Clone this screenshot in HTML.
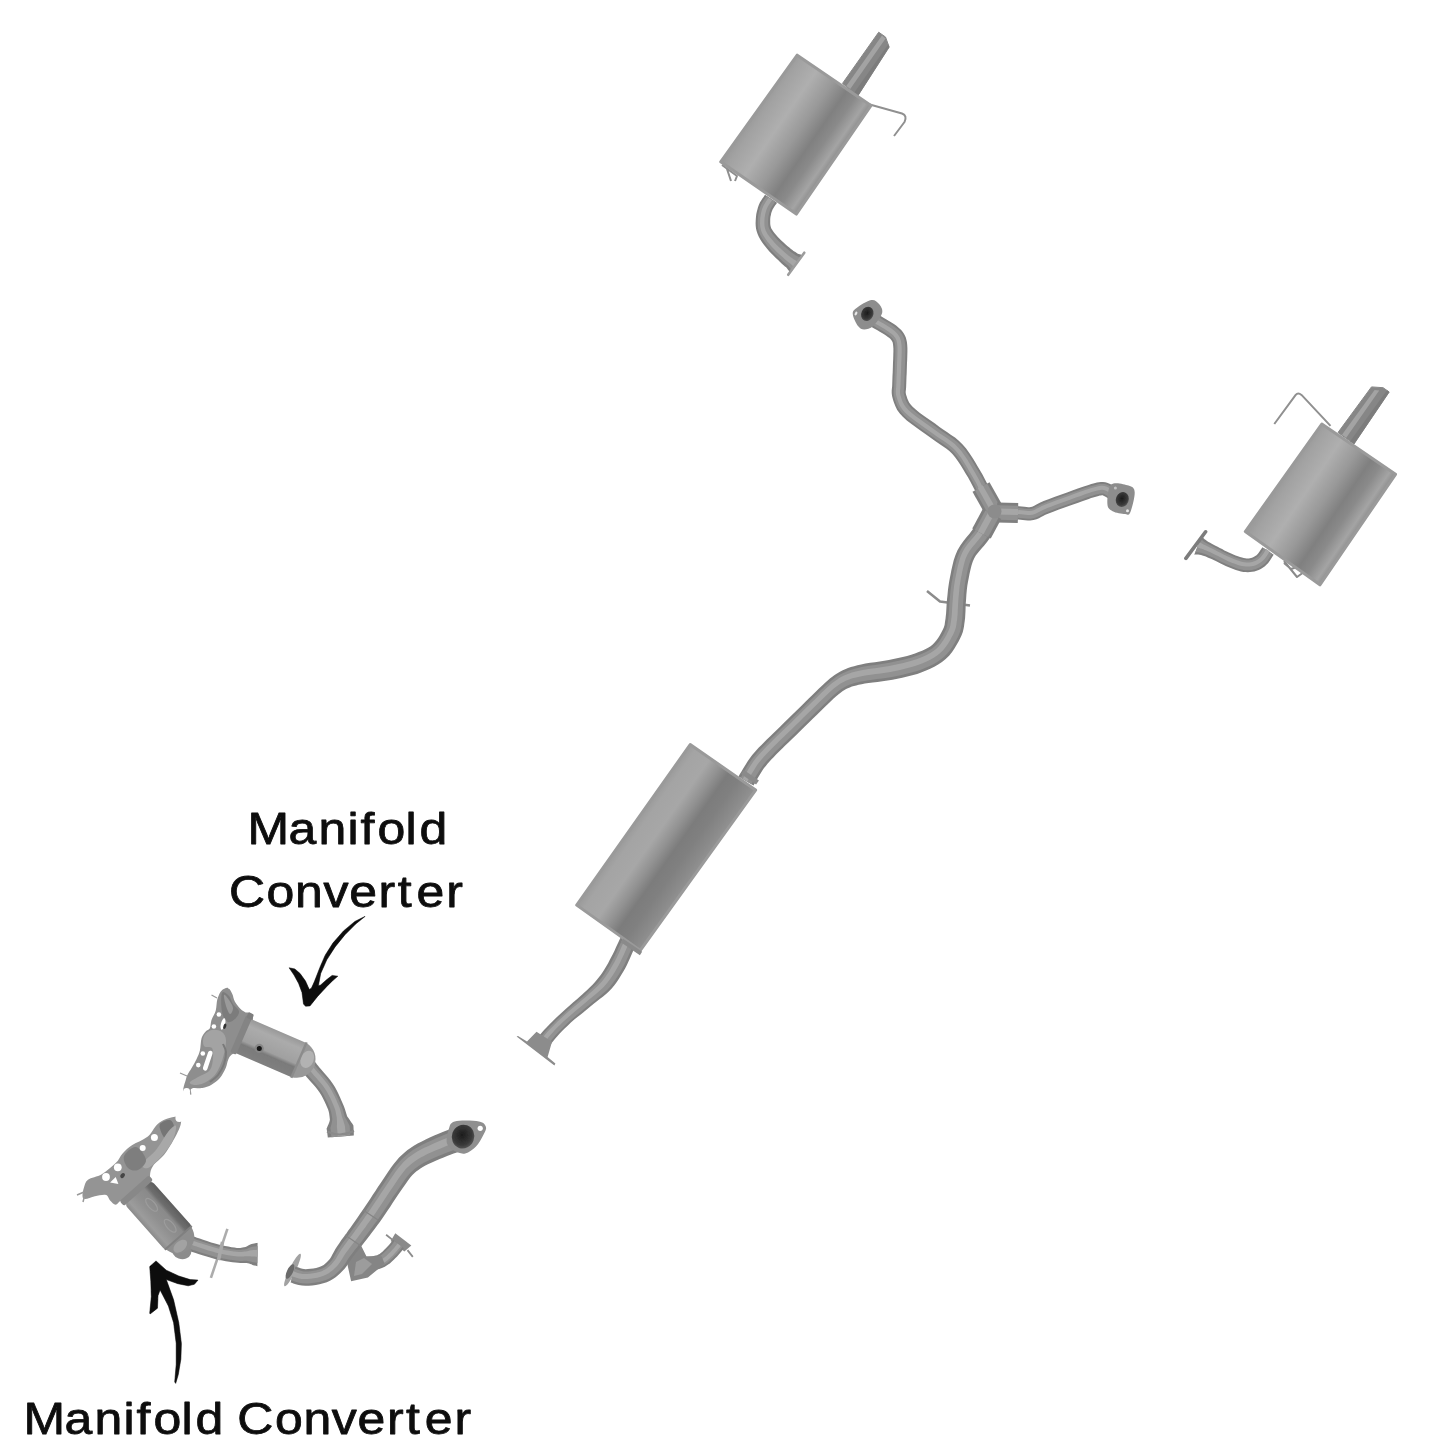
<!DOCTYPE html>
<html lang="en">
<head>
<meta charset="utf-8">
<title>Exhaust System Diagram</title>
<style>
html,body{margin:0;padding:0;background:#fff;}
body{width:1445px;height:1445px;overflow:hidden;}
svg{display:block;}
.lbl{font-family:"Liberation Sans",sans-serif;font-size:45px;fill:#0a0a0a;stroke:#0a0a0a;stroke-width:0.8px;stroke-linejoin:round;}
.p{fill:none;stroke-linejoin:round;}
</style>
</head>
<body>
<svg width="1445" height="1445" viewBox="0 0 1445 1445">
<defs>
<filter id="soft" x="-5%" y="-5%" width="110%" height="110%"><feGaussianBlur stdDeviation="0.75"/></filter>
<filter id="soft2" x="-5%" y="-5%" width="110%" height="110%"><feGaussianBlur stdDeviation="0.45"/></filter>

<linearGradient id="gm1" gradientUnits="userSpaceOnUse" x1="797" y1="55" x2="871" y2="106"><stop offset="0" stop-color="#9c9c9c"/><stop offset=".06" stop-color="#a2a2a2"/><stop offset=".28" stop-color="#afafaf"/><stop offset=".5" stop-color="#999"/><stop offset=".68" stop-color="#808080"/><stop offset=".8" stop-color="#8a8a8a"/><stop offset=".93" stop-color="#a4a4a4"/><stop offset="1" stop-color="#8e8e8e"/></linearGradient>
<linearGradient id="gm2" gradientUnits="userSpaceOnUse" x1="1322" y1="424" x2="1396" y2="474"><stop offset="0" stop-color="#9c9c9c"/><stop offset=".06" stop-color="#a2a2a2"/><stop offset=".28" stop-color="#afafaf"/><stop offset=".5" stop-color="#999"/><stop offset=".68" stop-color="#808080"/><stop offset=".8" stop-color="#8a8a8a"/><stop offset=".93" stop-color="#a4a4a4"/><stop offset="1" stop-color="#8e8e8e"/></linearGradient>
<linearGradient id="gm3" gradientUnits="userSpaceOnUse" x1="691" y1="745" x2="755" y2="790"><stop offset="0" stop-color="#9c9c9c"/><stop offset=".08" stop-color="#a4a4a4"/><stop offset=".3" stop-color="#a7a7a7"/><stop offset=".46" stop-color="#929292"/><stop offset=".6" stop-color="#7c7c7c"/><stop offset=".75" stop-color="#808080"/><stop offset=".9" stop-color="#8a8a8a"/><stop offset="1" stop-color="#929292"/></linearGradient>
<linearGradient id="gc1" gradientUnits="userSpaceOnUse" x1="0" y1="-18.700" x2="0" y2="18.700"><stop offset="0" stop-color="#989898"/><stop offset=".2" stop-color="#ababab"/><stop offset=".62" stop-color="#a0a0a0"/><stop offset=".72" stop-color="#7a7a7a"/><stop offset="1" stop-color="#808080"/></linearGradient>
<linearGradient id="gc2" gradientUnits="userSpaceOnUse" x1="0" y1="-18" x2="0" y2="18"><stop offset="0" stop-color="#5e5e5e"/><stop offset=".2" stop-color="#6e6e6e"/><stop offset=".3" stop-color="#8a8a8a"/><stop offset=".6" stop-color="#909090"/><stop offset=".85" stop-color="#9c9c9c"/><stop offset="1" stop-color="#8a8a8a"/></linearGradient>
<radialGradient id="gh" cx=".45" cy=".45" r=".6"><stop offset="0" stop-color="#1c1c1c"/><stop offset=".7" stop-color="#3a3a3a"/><stop offset="1" stop-color="#5a5a5a"/></radialGradient>
</defs>
<rect width="1445" height="1445" fill="#fff"/>
<g filter="url(#soft)">
<g id="muffler1">
<polygon points="842.5,83.4 878.7,32.2 885.5,37.0 889.2,47.1 857.6,96.2" fill="#868686" stroke="#868686" stroke-width="1" stroke-linejoin="round"/><polygon points="846.3,86.1 882.0,35.6 885.6,38.6 850.2,88.9" fill="#a3a3a3"/><polygon points="853.6,93.4 888.2,44.6 889.2,47.1 857.6,96.2" fill="#7c7c7c"/>
<polygon points="765.0,194.8 764.5,195.6 763.6,196.9 762.4,198.5 761.2,200.4 759.9,202.6 758.8,205.0 758.0,207.2 757.4,209.5 756.8,211.8 756.3,214.1 756.0,216.5 755.8,218.9 755.7,221.1 755.6,223.3 755.7,225.8 756.0,228.4 756.6,231.1 757.6,234.0 758.8,236.8 760.3,239.4 761.9,242.0 763.7,244.4 765.5,246.8 767.3,249.1 769.4,251.5 771.6,253.8 773.9,256.1 776.1,258.2 778.1,260.1 779.8,261.8 781.3,263.2 782.7,264.5 783.9,265.5 784.9,266.4 785.8,267.1 786.6,267.8 787.3,268.7 788.0,269.7 788.7,270.6 789.2,271.5 789.6,272.2 789.9,272.8 803.1,255.2 802.4,255.1 801.6,254.9 800.7,254.6 799.7,254.3 798.6,253.9 797.4,253.4 796.4,252.7 795.4,252.1 794.4,251.5 793.5,250.9 792.4,250.1 791.0,249.0 789.3,247.6 787.3,245.9 785.1,244.0 783.0,242.1 781.0,240.3 779.3,238.5 777.6,236.7 775.9,234.8 774.4,232.9 773.1,231.2 772.0,229.6 771.2,228.2 770.8,227.0 770.5,225.8 770.3,224.5 770.2,223.1 770.2,221.4 770.2,219.7 770.3,218.1 770.5,216.5 770.9,214.9 771.2,213.2 771.7,211.7 772.2,210.4 772.7,209.3 773.5,208.0 774.4,206.5 775.4,205.1 776.3,203.9 777.0,202.8" fill="#7f7f7f"/><polygon points="766.7,195.9 766.1,196.8 765.2,198.0 764.1,199.6 762.9,201.5 761.7,203.6 760.7,205.7 759.9,207.9 759.3,210.0 758.8,212.2 758.3,214.5 758.0,216.8 757.8,219.0 757.7,221.1 757.7,223.3 757.8,225.6 758.0,228.0 758.6,230.6 759.5,233.2 760.7,235.8 762.1,238.3 763.7,240.7 765.4,243.1 767.2,245.4 769.0,247.6 771.0,249.9 773.2,252.2 775.4,254.4 777.6,256.5 779.6,258.4 781.3,260.0 782.8,261.4 784.2,262.6 785.4,263.5 786.4,264.4 787.3,265.1 788.1,265.8 788.8,266.6 789.6,267.5 790.3,268.4 791.0,269.1 791.4,269.8 791.7,270.3 801.3,257.7 800.6,257.5 799.9,257.2 799.0,256.9 798.0,256.4 797.0,256.0 795.9,255.4 794.9,254.8 793.9,254.1 793.0,253.5 792.0,252.8 790.8,251.9 789.5,250.8 787.7,249.3 785.7,247.6 783.5,245.7 781.4,243.8 779.4,241.8 777.6,240.0 775.9,238.1 774.2,236.1 772.7,234.2 771.3,232.3 770.2,230.6 769.3,229.0 768.8,227.6 768.4,226.2 768.2,224.7 768.1,223.1 768.1,221.4 768.2,219.6 768.3,217.9 768.5,216.2 768.9,214.4 769.3,212.7 769.8,211.1 770.3,209.7 770.9,208.3 771.7,206.9 772.7,205.4 773.7,204.0 774.6,202.7 775.3,201.7" fill="#919191"/><polygon points="768.5,197.9 767.9,198.8 767.0,200.1 765.9,201.6 764.8,203.4 763.7,205.3 762.8,207.2 762.1,209.1 761.5,211.1 761.0,213.2 760.6,215.3 760.3,217.4 760.1,219.5 760.1,221.5 760.0,223.5 760.1,225.6 760.4,227.8 760.9,230.0 761.7,232.3 762.7,234.6 764.1,236.8 765.6,239.1 767.3,241.4 769.0,243.6 770.8,245.7 772.7,247.8 774.9,250.0 777.1,252.2 779.3,254.2 781.3,256.0 783.0,257.6 784.5,258.9 785.8,260.0 786.9,260.9 787.9,261.7 788.8,262.4 789.7,263.0 790.5,263.8 791.4,264.6 792.2,265.3 792.9,266.0 793.4,266.5 793.8,266.9 797.8,261.7 797.3,261.4 796.6,261.0 795.8,260.5 794.9,260.0 793.9,259.4 792.9,258.8 792.0,258.1 791.0,257.4 790.1,256.7 789.0,255.9 787.8,255.0 786.4,253.8 784.6,252.3 782.6,250.5 780.5,248.6 778.3,246.5 776.2,244.5 774.4,242.5 772.7,240.5 771.0,238.5 769.4,236.4 767.9,234.4 766.7,232.4 765.7,230.5 765.1,228.8 764.7,227.0 764.5,225.2 764.4,223.4 764.4,221.6 764.5,219.7 764.6,217.9 764.9,216.0 765.2,214.1 765.7,212.2 766.2,210.4 766.8,208.8 767.5,207.3 768.5,205.6 769.5,204.0 770.5,202.5 771.4,201.3 772.1,200.3" fill="#a6a6a6"/>
<path class="p" d="M804.300 252.700 L788.200 274.800" stroke="#9c9c9c" stroke-width="2.600" stroke-linecap="round"/>
<path class="p" d="M868 104 L902 113.500 Q907.500 115.500 904.500 122 L894 136" stroke="#909090" stroke-width="2"/>
<path class="p" d="M722 165 L737 176 L735 181 M727 169 L731 181" stroke="#8e8e8e" stroke-width="2"/>
<polygon points="797.2,55.2 870.9,105.6 796.3,214.1 720.7,161.8" fill="url(#gm1)" stroke="#9a9a9a" stroke-width="3" stroke-linejoin="round"/>
</g>
<g id="muffler2">
<polygon points="1338.0,432.5 1371.5,386.9 1383.1,387.7 1389.2,392.0 1354.0,444.0" fill="#868686" stroke="#868686" stroke-width="1" stroke-linejoin="round"/><polygon points="1342.0,434.8 1374.6,390.0 1379.2,390.4 1346.2,437.7" fill="#a3a3a3"/><polygon points="1350.2,441.2 1387.0,390.3 1389.2,392.0 1354.0,444.0" fill="#7c7c7c"/>
<polygon points="1262.3,547.3 1261.6,548.4 1260.7,549.8 1259.7,551.3 1258.7,552.8 1257.7,554.0 1257.0,554.8 1256.2,555.4 1255.2,556.1 1254.1,556.7 1253.1,557.3 1252.0,557.7 1251.0,558.0 1249.9,558.2 1248.9,558.4 1247.8,558.4 1246.6,558.4 1245.2,558.2 1243.7,557.9 1242.0,557.6 1240.0,557.0 1237.9,556.3 1235.6,555.4 1233.3,554.5 1231.1,553.6 1228.9,552.6 1226.7,551.5 1224.4,550.4 1222.1,549.1 1219.8,547.9 1217.6,546.8 1215.5,545.7 1213.6,544.7 1211.8,543.7 1210.1,542.8 1208.5,541.9 1207.0,541.1 1205.8,540.1 1204.6,539.2 1203.6,538.3 1202.8,537.6 1202.2,536.9 1201.8,536.2 1194.2,554.8 1195.0,554.6 1196.0,554.6 1197.0,554.5 1198.2,554.6 1199.5,554.7 1201.0,554.9 1202.4,555.4 1204.1,556.0 1205.8,556.6 1207.7,557.4 1209.6,558.2 1211.6,559.0 1213.6,560.0 1215.8,561.1 1218.2,562.3 1220.6,563.6 1223.2,564.8 1225.7,566.0 1228.2,567.1 1230.7,568.1 1233.2,569.1 1235.8,570.0 1238.4,570.8 1240.9,571.5 1243.3,571.9 1245.6,572.1 1247.8,572.2 1250.0,572.1 1252.2,571.8 1254.4,571.4 1256.6,570.7 1258.7,569.9 1260.8,568.9 1262.7,567.7 1264.6,566.4 1266.4,564.8 1268.2,562.9 1269.8,560.8 1271.1,558.8 1272.2,557.0 1273.1,555.6 1273.7,554.7" fill="#7f7f7f"/><polygon points="1263.9,548.3 1263.2,549.4 1262.3,550.8 1261.3,552.4 1260.2,553.9 1259.2,555.2 1258.3,556.2 1257.4,557.0 1256.2,557.7 1255.1,558.4 1253.9,559.0 1252.7,559.5 1251.5,559.9 1250.3,560.1 1249.1,560.3 1247.8,560.3 1246.5,560.3 1245.0,560.1 1243.3,559.8 1241.5,559.4 1239.5,558.8 1237.2,558.1 1234.9,557.2 1232.6,556.3 1230.3,555.3 1228.1,554.3 1225.9,553.2 1223.5,552.0 1221.2,550.8 1218.9,549.6 1216.7,548.5 1214.7,547.5 1212.8,546.5 1211.0,545.5 1209.2,544.6 1207.6,543.8 1206.2,543.1 1204.9,542.2 1203.7,541.4 1202.7,540.6 1201.8,539.9 1201.2,539.3 1200.7,538.8 1195.3,552.2 1196.0,552.1 1196.9,552.2 1198.0,552.3 1199.1,552.4 1200.4,552.7 1201.8,552.9 1203.3,553.5 1204.9,554.1 1206.7,554.8 1208.5,555.6 1210.5,556.4 1212.5,557.3 1214.5,558.3 1216.7,559.4 1219.1,560.7 1221.5,561.9 1224.0,563.1 1226.5,564.3 1228.9,565.3 1231.4,566.3 1233.9,567.3 1236.4,568.2 1238.9,569.0 1241.3,569.6 1243.5,570.0 1245.7,570.2 1247.8,570.3 1249.9,570.2 1251.9,569.9 1253.9,569.5 1256.0,568.9 1257.9,568.1 1259.8,567.2 1261.7,566.1 1263.4,564.8 1265.1,563.4 1266.7,561.7 1268.2,559.7 1269.5,557.8 1270.6,556.0 1271.5,554.6 1272.1,553.7" fill="#919191"/><polygon points="1266.3,549.1 1265.6,550.1 1264.7,551.5 1263.7,553.2 1262.6,554.8 1261.4,556.3 1260.3,557.5 1259.1,558.5 1257.8,559.4 1256.5,560.2 1255.1,560.9 1253.6,561.5 1252.2,561.9 1250.7,562.2 1249.3,562.4 1247.8,562.4 1246.2,562.4 1244.5,562.2 1242.7,561.9 1240.7,561.4 1238.6,560.8 1236.3,560.0 1233.9,559.1 1231.5,558.1 1229.2,557.1 1226.9,556.1 1224.6,555.0 1222.2,553.8 1219.9,552.5 1217.6,551.4 1215.5,550.3 1213.5,549.3 1211.5,548.3 1209.7,547.4 1208.0,546.6 1206.4,545.8 1204.9,545.1 1203.6,544.4 1202.4,543.8 1201.3,543.2 1200.4,542.7 1199.7,542.3 1199.1,541.9 1196.9,547.5 1197.5,547.6 1198.4,547.8 1199.3,548.1 1200.5,548.4 1201.7,548.8 1203.1,549.3 1204.6,549.9 1206.2,550.6 1207.9,551.3 1209.8,552.1 1211.7,553.0 1213.7,553.9 1215.8,555.0 1218.0,556.1 1220.4,557.3 1222.8,558.6 1225.2,559.8 1227.6,560.9 1230.0,561.9 1232.4,562.9 1234.9,563.8 1237.3,564.7 1239.6,565.4 1241.9,565.9 1244.0,566.3 1245.9,566.5 1247.8,566.6 1249.6,566.5 1251.4,566.3 1253.2,565.9 1255.0,565.4 1256.8,564.7 1258.5,563.8 1260.1,562.8 1261.6,561.7 1263.1,560.5 1264.5,559.0 1265.9,557.2 1267.1,555.4 1268.2,553.7 1269.1,552.3 1269.7,551.3" fill="#a6a6a6"/>
<path class="p" d="M1205.600 531.800 L1185.900 558.400" stroke="#7c7c7c" stroke-width="3.600" stroke-linecap="round"/>
<path class="p" d="M1330.500 425.900 L1301.500 394.900 Q1298 392 1295.700 394.900 L1274.300 424" stroke="#909090" stroke-width="2"/>
<path class="p" d="M1284 561 L1297 577 L1304 572 M1284 563 L1291 569 L1300 566" stroke="#8a8a8a" stroke-width="2"/>
<polygon points="1321.8,424.0 1395.5,474.3 1319.9,584.8 1245.3,531.5" fill="url(#gm2)" stroke="#9a9a9a" stroke-width="3" stroke-linejoin="round"/>
</g>
<g id="ypipe">
<path class="p" d="M927 591 L940 601.500 L970 605.500" stroke="#8c8c8c" stroke-width="2.500"/>
<polygon points="995.7,518.6 998.3,518.7 1001.9,518.9 1006.1,519.1 1010.5,519.2 1014.6,519.4 1018.0,519.5 1020.6,519.7 1022.8,520.0 1025.1,520.3 1027.6,520.5 1030.4,520.5 1033.5,520.1 1036.5,519.3 1039.0,518.2 1041.1,517.1 1043.1,516.0 1045.4,514.8 1048.6,513.5 1053.2,511.7 1058.9,509.6 1065.3,507.3 1071.6,505.0 1077.5,502.9 1082.2,501.2 1085.9,499.9 1088.8,498.9 1091.1,498.1 1093.1,497.4 1094.9,496.9 1096.7,496.4 1098.5,496.0 1099.9,495.6 1101.0,495.4 1101.8,495.3 1102.3,495.3 1102.7,495.3 1103.1,495.5 1104.0,495.9 1105.1,496.5 1106.4,497.3 1107.6,498.1 1108.6,498.7 1115.4,487.3 1114.7,486.9 1113.6,486.1 1112.0,485.1 1110.1,484.0 1107.8,483.0 1105.3,482.3 1103.0,482.0 1100.8,482.0 1098.9,482.3 1097.0,482.6 1095.2,483.1 1093.3,483.6 1091.3,484.1 1089.2,484.7 1087.0,485.4 1084.5,486.3 1081.5,487.3 1077.8,488.6 1073.0,490.3 1067.1,492.4 1060.7,494.8 1054.3,497.1 1048.5,499.3 1043.6,501.1 1039.8,502.7 1036.9,504.2 1034.7,505.4 1033.2,506.3 1032.1,506.7 1030.9,507.1 1029.5,507.3 1028.2,507.2 1026.6,507.1 1024.5,506.8 1021.8,506.5 1018.8,506.3 1015.2,506.1 1011.0,505.9 1006.6,505.8 1002.4,505.6 998.8,505.5 996.3,505.4" fill="#7f7f7f"/><polygon points="995.8,516.8 998.3,516.9 1001.9,517.0 1006.1,517.2 1010.5,517.4 1014.7,517.5 1018.1,517.7 1020.7,517.9 1023.0,518.2 1025.3,518.5 1027.7,518.7 1030.3,518.7 1033.1,518.3 1035.9,517.5 1038.2,516.6 1040.2,515.5 1042.2,514.4 1044.6,513.1 1047.9,511.7 1052.5,510.0 1058.3,507.8 1064.6,505.5 1071.0,503.2 1076.8,501.1 1081.6,499.4 1085.2,498.1 1088.2,497.1 1090.6,496.3 1092.6,495.7 1094.4,495.1 1096.2,494.6 1098.0,494.2 1099.5,493.8 1100.7,493.6 1101.6,493.4 1102.4,493.4 1103.0,493.5 1103.8,493.7 1104.8,494.2 1106.1,494.9 1107.4,495.7 1108.6,496.5 1109.5,497.1 1114.5,488.9 1113.7,488.4 1112.5,487.7 1111.0,486.7 1109.2,485.7 1107.2,484.8 1105.0,484.1 1102.9,483.9 1101.0,483.9 1099.2,484.1 1097.4,484.5 1095.7,484.9 1093.8,485.4 1091.8,485.9 1089.7,486.5 1087.6,487.2 1085.1,488.0 1082.1,489.1 1078.4,490.4 1073.6,492.1 1067.7,494.2 1061.3,496.5 1055.0,498.8 1049.1,501.0 1044.3,502.9 1040.6,504.4 1037.8,505.9 1035.6,507.1 1034.0,507.9 1032.7,508.5 1031.3,508.9 1029.7,509.1 1028.1,509.1 1026.4,508.9 1024.2,508.7 1021.7,508.3 1018.7,508.1 1015.1,508.0 1010.9,507.8 1006.5,507.6 1002.3,507.5 998.7,507.3 996.2,507.2" fill="#919191"/><polygon points="995.9,513.1 998.5,513.2 1002.0,513.3 1006.3,513.5 1010.7,513.7 1014.8,513.8 1018.3,514.0 1021.0,514.2 1023.4,514.5 1025.6,514.8 1027.8,515.0 1030.1,515.0 1032.6,514.7 1034.9,514.0 1037.0,513.1 1038.9,512.1 1040.9,511.0 1043.5,509.7 1046.8,508.3 1051.5,506.5 1057.3,504.3 1063.7,502.0 1070.0,499.7 1075.9,497.6 1080.7,495.9 1084.3,494.6 1087.3,493.6 1089.7,492.7 1091.7,492.1 1093.6,491.5 1095.5,491.0 1097.3,490.6 1098.9,490.2 1100.3,489.9 1101.4,489.8 1102.5,489.7 1103.6,489.9 1104.8,490.2 1106.1,490.8 1107.5,491.6 1108.9,492.5 1110.1,493.3 1111.0,493.8 1113.0,490.4 1112.2,489.9 1111.0,489.1 1109.6,488.2 1108.0,487.3 1106.2,486.5 1104.4,485.9 1102.7,485.8 1101.2,485.8 1099.6,486.0 1098.0,486.3 1096.4,486.7 1094.5,487.2 1092.5,487.7 1090.6,488.3 1088.4,489.0 1086.0,489.8 1083.0,490.8 1079.3,492.1 1074.5,493.8 1068.7,495.9 1062.3,498.2 1055.9,500.6 1050.1,502.7 1045.4,504.5 1041.8,506.1 1039.1,507.4 1036.9,508.6 1035.2,509.6 1033.6,510.2 1031.8,510.7 1029.9,511.0 1028.0,511.0 1026.1,510.8 1023.9,510.5 1021.4,510.2 1018.5,510.0 1015.0,509.9 1010.8,509.7 1006.4,509.5 1002.2,509.3 998.6,509.2 996.1,509.1" fill="#a6a6a6"/>
<polygon points="864.8,321.7 864.7,321.5 864.7,321.6 865.5,322.6 866.6,323.6 867.8,324.6 869.4,325.7 871.6,327.0 874.1,328.5 877.0,330.1 879.8,331.7 882.4,333.3 884.5,334.6 886.3,335.8 887.9,336.9 889.1,337.8 890.0,338.6 890.7,339.3 891.4,340.2 892.0,341.0 892.3,341.7 892.6,342.2 892.8,343.0 893.0,344.2 893.2,346.0 893.4,348.4 893.4,351.5 893.3,355.0 893.2,358.7 893.0,362.4 892.9,365.9 892.8,369.2 892.7,372.5 892.5,375.8 892.4,379.0 892.3,382.1 892.2,384.7 892.1,386.8 891.9,388.6 891.7,390.6 891.7,393.0 892.0,395.8 892.7,398.5 893.4,401.0 894.3,403.6 895.5,406.6 897.2,409.9 899.6,413.3 902.8,416.8 906.8,420.4 911.5,424.1 916.6,427.8 921.8,431.5 926.8,435.0 931.3,438.3 935.5,441.3 939.5,444.0 943.2,446.4 946.5,448.8 949.6,451.2 952.4,454.0 955.1,457.2 957.8,460.9 960.5,465.0 963.1,469.2 965.6,473.5 968.1,477.6 970.3,481.6 972.5,485.7 974.6,489.8 976.7,493.8 978.6,497.6 980.5,501.1 982.4,504.2 984.1,506.9 985.8,509.3 987.2,511.3 988.3,512.9 989.1,514.1 1000.7,506.1 999.8,504.8 998.6,503.2 997.3,501.3 995.8,499.2 994.3,496.8 992.7,494.1 991.0,491.1 989.1,487.4 987.1,483.4 984.9,479.2 982.6,474.8 980.1,470.6 977.7,466.4 975.1,462.0 972.3,457.5 969.3,453.0 966.1,448.6 962.6,444.4 958.8,440.8 955.0,437.6 951.1,434.9 947.3,432.3 943.5,429.8 939.5,426.9 935.0,423.6 929.9,420.1 924.8,416.4 919.9,412.9 915.7,409.6 912.6,406.8 910.6,404.5 909.1,402.5 908.2,400.6 907.4,398.8 906.8,396.8 906.1,394.7 905.8,393.3 905.7,392.4 905.7,391.4 905.9,389.9 906.1,387.8 906.2,385.3 906.3,382.5 906.4,379.6 906.5,376.4 906.7,373.1 906.8,369.7 906.9,366.3 907.0,362.9 907.2,359.2 907.3,355.4 907.4,351.6 907.4,348.0 907.2,344.8 906.9,342.1 906.4,339.7 905.8,337.5 904.9,335.4 903.8,333.6 902.6,331.8 901.2,330.0 899.5,328.4 897.8,326.9 896.1,325.6 894.3,324.3 892.3,323.0 889.8,321.4 886.9,319.7 883.9,318.0 881.1,316.3 878.7,314.9 877.0,313.9 876.0,313.3 875.7,313.0 875.8,313.1 876.0,313.4 875.7,312.9 875.2,312.3" fill="#7f7f7f"/><polygon points="866.3,320.4 866.2,320.3 866.3,320.5 866.9,321.2 867.8,322.1 869.0,323.0 870.5,324.1 872.6,325.3 875.1,326.8 878.0,328.4 880.8,330.1 883.5,331.6 885.6,333.0 887.4,334.2 889.0,335.3 890.3,336.3 891.4,337.2 892.2,338.0 892.9,339.0 893.6,340.0 894.1,340.8 894.4,341.5 894.7,342.5 894.9,343.9 895.2,345.8 895.3,348.4 895.3,351.5 895.3,355.0 895.1,358.7 895.0,362.4 894.9,365.9 894.8,369.3 894.6,372.6 894.5,375.9 894.3,379.1 894.2,382.1 894.2,384.8 894.1,387.0 893.9,388.8 893.7,390.7 893.7,393.0 893.9,395.4 894.5,398.0 895.3,400.4 896.1,402.9 897.3,405.8 898.9,408.8 901.2,412.1 904.2,415.4 908.0,418.9 912.7,422.5 917.7,426.2 923.0,429.9 927.9,433.4 932.4,436.7 936.6,439.7 940.6,442.3 944.3,444.8 947.7,447.2 950.9,449.8 953.8,452.6 956.7,456.0 959.4,459.8 962.1,463.9 964.8,468.2 967.3,472.5 969.7,476.6 972.1,480.7 974.3,484.8 976.4,488.9 978.4,492.9 980.4,496.7 982.2,500.1 984.0,503.1 985.8,505.8 987.4,508.2 988.8,510.2 989.9,511.8 990.8,513.0 999.0,507.2 998.2,506.0 997.0,504.4 995.7,502.5 994.2,500.3 992.6,497.8 991.0,495.1 989.3,492.0 987.4,488.3 985.4,484.3 983.2,480.1 980.9,475.8 978.5,471.6 976.0,467.4 973.4,463.0 970.7,458.5 967.7,454.1 964.6,449.8 961.2,445.8 957.5,442.2 953.8,439.2 950.0,436.5 946.2,433.9 942.3,431.4 938.4,428.5 933.8,425.2 928.8,421.7 923.6,418.0 918.7,414.5 914.5,411.1 911.2,408.2 909.0,405.7 907.5,403.5 906.4,401.5 905.6,399.5 904.9,397.3 904.3,395.2 903.8,393.6 903.7,392.5 903.8,391.3 903.9,389.7 904.1,387.7 904.2,385.2 904.3,382.5 904.4,379.5 904.6,376.3 904.7,373.0 904.8,369.6 904.9,366.3 905.1,362.8 905.2,359.1 905.3,355.3 905.4,351.6 905.4,348.1 905.2,345.0 904.9,342.4 904.5,340.2 903.9,338.2 903.1,336.3 902.2,334.6 901.1,333.0 899.7,331.3 898.2,329.8 896.6,328.4 894.9,327.2 893.1,325.9 891.2,324.6 888.8,323.0 885.9,321.4 883.0,319.7 880.1,318.0 877.7,316.6 875.9,315.5 874.9,314.9 874.4,314.5 874.4,314.4 874.5,314.5 874.2,314.1 873.7,313.6" fill="#919191"/><polygon points="867.6,318.1 867.8,318.2 867.9,318.4 868.3,319.0 869.0,319.6 869.9,320.3 871.3,321.3 873.2,322.5 875.8,323.9 878.6,325.5 881.5,327.2 884.2,328.8 886.4,330.3 888.3,331.5 889.9,332.7 891.3,333.7 892.6,334.7 893.6,335.8 894.5,336.9 895.3,338.1 895.9,339.2 896.4,340.3 896.7,341.5 897.1,343.2 897.3,345.3 897.5,348.0 897.5,351.2 897.4,354.8 897.3,358.5 897.1,362.2 897.0,365.7 896.9,369.1 896.8,372.4 896.6,375.7 896.5,378.9 896.4,381.9 896.3,384.6 896.2,386.9 896.0,388.8 895.8,390.6 895.8,392.5 896.0,394.6 896.6,396.9 897.3,399.2 898.1,401.6 899.1,404.2 900.6,407.0 902.7,409.9 905.4,413.0 909.1,416.3 913.6,419.8 918.7,423.5 923.9,427.2 928.9,430.7 933.4,434.0 937.5,436.9 941.4,439.6 945.2,442.1 948.7,444.6 952.0,447.3 955.2,450.3 958.2,453.9 961.1,457.8 963.8,462.0 966.5,466.4 969.0,470.7 971.5,474.9 973.8,478.9 976.1,483.1 978.2,487.3 980.2,491.3 982.2,495.0 984.0,498.3 985.7,501.3 987.4,503.9 989.0,506.2 990.4,508.2 991.5,509.8 992.4,511.0 995.8,508.6 995.0,507.4 993.8,505.8 992.5,503.8 990.9,501.6 989.3,499.1 987.6,496.3 985.9,493.1 984.0,489.4 981.9,485.4 979.8,481.2 977.5,476.9 975.1,472.7 972.6,468.6 970.1,464.2 967.4,459.8 964.5,455.4 961.5,451.3 958.2,447.5 954.8,444.1 951.2,441.2 947.5,438.6 943.8,436.1 939.9,433.5 935.8,430.6 931.3,427.3 926.3,423.8 921.1,420.1 916.2,416.5 911.8,413.1 908.4,410.0 905.9,407.3 904.2,404.8 902.9,402.4 902.0,400.2 901.3,397.9 900.6,395.7 900.2,393.9 900.0,392.3 900.0,390.9 900.2,389.2 900.4,387.2 900.5,384.8 900.6,382.1 900.7,379.1 900.8,375.9 901.0,372.6 901.1,369.2 901.2,365.9 901.3,362.4 901.5,358.7 901.6,354.9 901.7,351.2 901.7,347.9 901.5,344.9 901.2,342.5 900.8,340.6 900.3,338.9 899.7,337.3 898.9,335.9 897.9,334.5 896.7,333.0 895.4,331.7 894.0,330.4 892.4,329.3 890.7,328.0 888.8,326.7 886.4,325.2 883.6,323.6 880.7,321.9 877.9,320.3 875.4,318.9 873.5,317.7 872.4,316.9 871.7,316.4 871.4,316.1 871.3,316.0 871.1,315.6 870.8,315.3" fill="#a6a6a6"/>
<polygon points="984.4,506.9 983.3,509.3 981.8,512.5 980.2,516.1 978.3,520.0 976.3,523.8 974.4,527.1 972.3,530.1 969.7,533.4 966.7,537.0 963.5,541.0 960.3,545.4 957.5,550.2 955.4,555.3 953.7,560.3 952.5,565.2 951.4,569.9 950.6,574.2 949.8,578.3 949.1,582.1 948.5,585.9 948.0,589.4 947.7,592.7 947.4,595.9 947.0,599.2 946.7,602.8 946.5,606.4 946.3,609.9 946.1,613.2 945.8,616.1 945.5,618.8 945.1,621.3 944.8,623.4 944.6,625.0 944.2,626.3 943.7,627.7 942.9,629.6 941.6,632.1 940.0,634.9 938.3,637.7 936.5,640.3 934.6,642.6 932.7,644.5 930.6,646.2 928.1,647.7 925.2,649.3 922.1,650.7 918.6,652.1 915.0,653.5 911.2,654.8 907.1,655.9 902.7,657.0 898.1,658.0 893.4,659.0 888.8,659.9 884.3,660.7 879.7,661.5 874.9,662.2 870.1,662.8 865.4,663.6 861.1,664.4 857.4,665.3 854.1,666.2 850.9,667.1 848.0,668.1 845.1,669.3 842.2,670.6 839.5,672.0 837.0,673.4 834.6,675.0 832.3,676.7 829.9,678.6 827.4,680.8 824.6,683.2 821.7,685.9 818.7,688.7 815.7,691.8 812.4,695.0 809.0,698.3 805.2,702.0 801.0,706.2 796.6,710.5 792.2,714.8 787.9,719.0 784.0,722.8 780.3,726.4 776.7,729.9 773.3,733.2 770.0,736.4 766.8,739.5 763.9,742.5 761.2,745.2 758.8,747.6 756.6,750.0 754.4,752.4 752.2,755.0 750.0,757.9 747.7,761.2 745.4,764.9 743.2,768.5 741.2,771.9 739.6,774.6 738.5,776.6 753.5,785.4 754.7,783.4 756.3,780.5 758.2,777.3 760.2,774.0 762.2,770.8 764.0,768.1 765.8,765.9 767.5,763.8 769.3,761.7 771.3,759.5 773.6,757.2 776.1,754.5 778.9,751.7 782.0,748.7 785.2,745.6 788.7,742.3 792.3,738.8 796.0,735.2 800.0,731.3 804.3,727.1 808.7,722.7 813.0,718.4 817.2,714.4 821.0,710.7 824.5,707.3 827.7,704.2 830.8,701.3 833.6,698.6 836.2,696.3 838.6,694.2 840.9,692.5 842.8,691.1 844.5,690.0 846.1,689.1 847.8,688.3 849.8,687.4 851.9,686.6 854.0,686.0 856.2,685.4 858.7,684.8 861.6,684.2 864.9,683.6 868.6,683.0 872.8,682.4 877.5,681.9 882.5,681.3 887.6,680.6 892.6,679.7 897.4,678.7 902.3,677.7 907.3,676.6 912.3,675.3 917.2,673.9 921.8,672.3 926.1,670.6 930.2,668.8 934.3,666.8 938.2,664.6 942.0,662.0 945.7,659.1 949.1,655.7 952.1,652.0 954.6,648.3 956.8,644.6 958.7,641.2 960.3,638.0 961.7,635.0 962.8,632.0 963.5,629.1 964.0,626.4 964.3,623.9 964.7,621.2 965.1,617.9 965.3,614.4 965.5,610.9 965.6,607.4 965.7,604.0 966.0,600.8 966.2,597.5 966.4,594.4 966.7,591.3 967.0,588.3 967.4,585.2 968.0,581.7 968.8,577.8 969.6,573.6 970.5,569.5 971.5,565.5 972.7,561.8 974.1,558.6 975.8,555.6 978.2,552.4 981.1,549.0 984.2,545.4 987.4,541.5 990.4,537.3 993.0,533.0 995.3,528.5 997.3,524.3 999.1,520.4 1000.5,517.3 1001.6,515.1" fill="#7f7f7f"/><polygon points="986.8,508.1 985.7,510.4 984.3,513.6 982.6,517.3 980.7,521.2 978.6,525.1 976.6,528.5 974.4,531.7 971.7,535.1 968.7,538.7 965.5,542.6 962.5,546.8 959.8,551.4 957.8,556.2 956.2,561.0 955.0,565.8 954.0,570.4 953.1,574.7 952.4,578.8 951.6,582.6 951.1,586.2 950.6,589.7 950.3,592.9 950.0,596.1 949.7,599.4 949.4,602.9 949.2,606.5 949.0,610.0 948.8,613.3 948.5,616.4 948.2,619.1 947.8,621.6 947.5,623.8 947.2,625.5 946.8,627.1 946.3,628.7 945.3,630.7 944.0,633.4 942.4,636.2 940.6,639.2 938.7,642.0 936.6,644.5 934.5,646.6 932.2,648.4 929.5,650.1 926.5,651.7 923.2,653.3 919.7,654.7 916.0,656.1 912.0,657.4 907.8,658.6 903.3,659.7 898.7,660.8 893.9,661.7 889.3,662.7 884.8,663.5 880.1,664.2 875.2,664.9 870.5,665.6 865.9,666.3 861.6,667.1 858.0,667.9 854.7,668.8 851.7,669.7 848.8,670.6 846.0,671.7 843.3,673.0 840.7,674.3 838.3,675.6 836.0,677.1 833.8,678.7 831.5,680.6 829.0,682.7 826.2,685.1 823.4,687.7 820.4,690.5 817.4,693.5 814.1,696.7 810.7,700.1 806.9,703.8 802.7,707.9 798.3,712.2 793.9,716.5 789.6,720.7 785.7,724.6 782.0,728.1 778.4,731.6 775.0,734.9 771.6,738.1 768.5,741.2 765.6,744.2 763.0,746.8 760.6,749.3 758.3,751.6 756.2,754.0 754.1,756.5 751.9,759.3 749.7,762.6 747.4,766.1 745.3,769.7 743.4,773.1 741.8,775.9 740.6,777.8 751.4,784.2 752.6,782.1 754.2,779.3 756.1,776.1 758.1,772.7 760.2,769.5 762.1,766.7 763.9,764.3 765.6,762.2 767.5,760.1 769.6,757.9 771.9,755.5 774.4,752.8 777.2,750.0 780.3,747.0 783.5,743.8 787.0,740.5 790.6,737.0 794.3,733.4 798.3,729.5 802.6,725.3 807.0,721.0 811.3,716.7 815.5,712.6 819.3,708.9 822.8,705.6 826.1,702.4 829.1,699.5 831.9,696.8 834.5,694.5 837.0,692.3 839.3,690.5 841.3,689.1 843.1,687.9 844.8,686.9 846.6,686.0 848.7,685.0 850.9,684.2 853.1,683.5 855.5,682.8 858.1,682.2 861.0,681.6 864.4,680.9 868.1,680.3 872.4,679.7 877.1,679.1 882.1,678.5 887.1,677.8 892.1,676.9 896.9,676.0 901.7,674.9 906.6,673.8 911.5,672.6 916.3,671.2 920.8,669.7 925.0,668.0 929.1,666.3 933.0,664.4 936.8,662.2 940.4,659.8 943.9,657.0 947.1,653.8 949.9,650.4 952.4,646.8 954.5,643.2 956.3,639.9 957.9,636.9 959.2,634.0 960.2,631.2 960.9,628.5 961.3,626.0 961.7,623.6 962.0,620.9 962.4,617.7 962.6,614.2 962.8,610.7 962.9,607.3 963.1,603.9 963.3,600.6 963.6,597.3 963.8,594.1 964.1,591.0 964.4,587.9 964.8,584.7 965.4,581.2 966.2,577.3 967.0,573.1 967.9,568.9 969.0,564.8 970.3,560.9 971.8,557.4 973.7,554.2 976.1,550.8 979.0,547.4 982.2,543.7 985.3,539.9 988.2,535.9 990.6,531.7 992.9,527.3 994.9,523.1 996.7,519.3 998.1,516.2 999.2,513.9" fill="#919191"/><polygon points="989.5,508.9 988.4,511.2 987.0,514.4 985.3,518.1 983.3,522.1 981.2,526.1 979.1,529.8 976.7,533.2 973.9,536.7 970.8,540.3 967.7,544.1 964.8,548.1 962.4,552.3 960.5,556.7 959.1,561.2 957.9,565.8 956.9,570.3 956.1,574.6 955.3,578.6 954.6,582.3 954.1,585.8 953.7,589.2 953.3,592.4 953.1,595.6 952.8,598.9 952.5,602.3 952.3,605.8 952.1,609.3 951.9,612.7 951.7,615.9 951.3,618.7 951.0,621.3 950.6,623.5 950.3,625.5 949.8,627.4 949.1,629.3 948.1,631.6 946.7,634.4 945.0,637.4 943.1,640.5 941.0,643.5 938.8,646.3 936.4,648.7 933.7,650.8 930.7,652.7 927.5,654.5 924.0,656.2 920.3,657.7 916.5,659.2 912.4,660.6 908.0,661.8 903.4,662.9 898.7,664.0 893.9,665.0 889.2,665.9 884.6,666.8 879.8,667.5 874.9,668.2 870.1,668.8 865.6,669.5 861.5,670.2 858.0,671.0 854.8,671.8 851.9,672.6 849.2,673.5 846.6,674.5 844.0,675.6 841.5,676.8 839.3,678.0 837.2,679.4 835.1,680.9 832.9,682.6 830.4,684.6 827.7,686.9 824.9,689.5 822.0,692.2 819.0,695.2 815.8,698.4 812.3,701.7 808.5,705.5 804.3,709.6 799.9,713.9 795.5,718.2 791.3,722.4 787.3,726.3 783.6,729.8 780.0,733.3 776.6,736.6 773.3,739.8 770.1,742.9 767.3,745.8 764.7,748.5 762.3,750.9 760.1,753.2 758.1,755.5 756.0,757.9 754.0,760.6 751.8,763.7 749.7,767.1 747.5,770.7 745.6,774.0 744.0,776.8 742.8,778.8 747.4,781.4 748.5,779.4 750.1,776.6 752.0,773.3 754.1,769.9 756.2,766.5 758.2,763.6 760.1,761.2 762.0,758.9 763.9,756.7 766.0,754.5 768.4,752.1 770.9,749.4 773.8,746.5 776.9,743.5 780.1,740.3 783.6,737.0 787.2,733.6 790.9,729.9 794.9,726.1 799.1,721.9 803.5,717.5 807.9,713.2 812.1,709.2 815.9,705.5 819.4,702.1 822.6,698.9 825.7,696.0 828.5,693.3 831.2,690.8 833.8,688.6 836.1,686.7 838.2,685.2 840.1,683.8 842.0,682.7 844.0,681.7 846.2,680.6 848.6,679.7 851.0,678.8 853.5,678.1 856.2,677.4 859.2,676.7 862.7,676.0 866.6,675.3 870.9,674.7 875.7,674.1 880.6,673.4 885.5,672.7 890.4,671.9 895.1,670.9 899.9,669.9 904.8,668.8 909.6,667.6 914.2,666.3 918.5,664.8 922.6,663.2 926.5,661.6 930.2,659.8 933.8,657.8 937.1,655.6 940.2,653.1 943.1,650.2 945.7,647.0 948.0,643.7 950.1,640.3 951.8,637.1 953.3,634.2 954.5,631.5 955.4,629.1 956.0,626.7 956.4,624.5 956.7,622.1 957.1,619.5 957.4,616.4 957.7,613.1 957.8,609.6 958.0,606.1 958.2,602.7 958.4,599.3 958.7,596.1 959.0,592.9 959.3,589.7 959.6,586.5 960.1,583.2 960.7,579.6 961.5,575.6 962.3,571.4 963.3,567.1 964.4,562.8 965.7,558.6 967.4,554.7 969.5,551.1 972.1,547.5 975.1,543.9 978.2,540.3 981.2,536.6 983.9,532.8 986.2,528.8 988.4,524.7 990.4,520.5 992.2,516.7 993.6,513.6 994.7,511.3" fill="#a6a6a6"/>
<path class="p" d="M981 487 L994.500 511" stroke="#7f7f7f" stroke-width="19.5" stroke-linecap="butt"/><path class="p" d="M981 487 L994.500 511" stroke="#919191" stroke-width="14.0" stroke-linecap="butt"/><path class="p" d="M981 487 L994.500 511" stroke="#a6a6a6" stroke-width="5.8" stroke-linecap="butt" transform="translate(-0.8 -0.4)"/>
<path class="p" d="M997 512.500 L1018 513" stroke="#7f7f7f" stroke-width="20.0" stroke-linecap="butt"/><path class="p" d="M997 512.500 L1018 513" stroke="#919191" stroke-width="14.4" stroke-linecap="butt"/><path class="p" d="M997 512.500 L1018 513" stroke="#a6a6a6" stroke-width="6.0" stroke-linecap="butt" transform="translate(0 -1)"/>
<path class="p" d="M992 514 L981.500 533.500" stroke="#7f7f7f" stroke-width="21.0" stroke-linecap="butt"/><path class="p" d="M992 514 L981.500 533.500" stroke="#919191" stroke-width="15.1" stroke-linecap="butt"/><path class="p" d="M992 514 L981.500 533.500" stroke="#a6a6a6" stroke-width="6.3" stroke-linecap="butt" transform="translate(-0.9 -0.5)"/>
<circle cx="994.500" cy="511.500" r="7" fill="#8c8c8c"/>
<path d="M852.8 314.2 C852.6 311.2 853.5 310.4 856.6 308.0 C859.7 305.6 867.4 300.7 871.1 300.0 C874.8 299.3 876.9 301.7 878.8 303.8 C880.6 305.9 883.1 309.1 882.2 312.8 C881.3 316.5 876.2 323.2 873.2 326.0 C870.2 328.8 866.7 329.4 864.2 329.4 C861.7 329.4 859.9 328.5 858.0 326.0 C856.1 323.5 853.0 317.2 852.8 314.2Z" fill="#8d8d8d"/>
<ellipse cx="867.300" cy="313.900" rx="6" ry="7.400" fill="url(#gh)" transform="rotate(25 867.300 313.900)"/>
<ellipse cx="856" cy="313.500" rx="1.200" ry="2" fill="#e8e8e8" transform="rotate(30 856 313.500)"/>
<path d="M1111.2 484.6 C1114.7 481.5 1124.6 484.3 1128.5 485.6 C1132.4 486.9 1134.4 487.7 1134.7 492.2 C1135.0 496.7 1131.8 509.0 1130.2 512.6 C1128.6 516.2 1128.0 514.2 1125.1 514.0 C1122.2 513.8 1115.5 512.9 1112.6 511.2 C1109.6 509.5 1107.6 508.4 1107.4 504.0 C1107.2 499.6 1107.7 487.7 1111.2 484.6Z" fill="#8d8d8d"/>
<ellipse cx="1122.300" cy="499.500" rx="6.400" ry="7.600" fill="url(#gh)" transform="rotate(22 1122.300 499.500)"/>
<circle cx="1115.400" cy="487.900" r="1.500" fill="#c4c4c4"/><circle cx="1127.500" cy="510.700" r="1.500" fill="#e8e8e8"/>
</g>
<g id="muffler3">
<polygon points="622.5,934.1 622.1,934.7 621.7,935.6 621.1,936.7 620.4,938.1 619.5,939.8 618.5,941.9 617.3,944.5 615.9,947.5 614.5,950.7 612.9,953.9 611.3,957.1 609.7,960.1 608.1,963.2 606.3,966.3 604.5,969.3 602.6,972.2 600.7,975.0 598.7,977.6 596.7,980.1 594.6,982.5 592.3,985.0 589.7,987.5 586.9,990.2 583.8,993.1 580.5,996.1 576.9,999.3 573.0,1002.6 569.1,1006.0 565.4,1009.3 561.9,1012.5 558.6,1015.5 555.4,1018.5 552.4,1021.4 549.6,1024.2 547.0,1026.9 544.5,1029.5 542.3,1032.0 540.2,1034.6 538.4,1036.9 536.9,1039.0 535.7,1040.6 534.9,1041.7 547.1,1050.3 548.0,1048.9 549.1,1047.2 550.3,1045.3 551.7,1043.1 553.3,1040.9 555.1,1038.7 557.1,1036.4 559.5,1033.8 562.1,1031.1 564.9,1028.3 567.9,1025.4 570.9,1022.5 574.3,1019.6 578.1,1016.5 582.0,1013.4 585.9,1010.2 589.8,1007.0 593.4,1004.1 596.6,1001.5 599.7,999.1 602.8,996.7 605.8,994.2 608.8,991.5 611.7,988.6 614.4,985.3 616.8,981.9 619.1,978.5 621.2,975.1 623.2,971.8 625.1,968.5 626.9,965.0 628.6,961.3 630.2,957.7 631.6,954.4 632.9,951.5 633.9,949.1 634.8,947.3 635.6,945.7 636.2,944.5 636.7,943.5 637.2,942.6 637.5,941.9" fill="#7f7f7f"/><polygon points="624.6,935.2 624.2,935.8 623.8,936.7 623.2,937.8 622.5,939.1 621.7,940.8 620.7,942.9 619.5,945.5 618.1,948.4 616.7,951.7 615.1,955.0 613.5,958.2 611.9,961.3 610.2,964.4 608.4,967.5 606.5,970.6 604.6,973.6 602.6,976.5 600.5,979.2 598.4,981.7 596.2,984.2 593.7,986.6 591.1,989.1 588.2,991.8 585.2,994.7 581.8,997.7 578.1,1000.8 574.3,1004.1 570.4,1007.4 566.6,1010.7 563.1,1013.9 559.9,1016.9 556.7,1019.8 553.8,1022.7 551.0,1025.5 548.4,1028.2 546.0,1030.8 543.8,1033.3 541.8,1035.8 540.1,1038.1 538.6,1040.1 537.5,1041.7 536.6,1042.9 545.4,1049.1 546.3,1047.8 547.4,1046.1 548.6,1044.1 550.1,1041.9 551.7,1039.7 553.6,1037.4 555.7,1035.0 558.1,1032.5 560.8,1029.7 563.6,1026.9 566.6,1024.0 569.7,1021.1 573.1,1018.2 576.8,1015.1 580.7,1011.9 584.7,1008.6 588.5,1005.5 592.0,1002.5 595.3,999.9 598.3,997.5 601.3,995.1 604.2,992.6 607.1,989.9 609.9,987.0 612.4,983.8 614.8,980.6 617.0,977.2 619.1,973.9 621.1,970.6 622.9,967.3 624.7,963.9 626.4,960.3 628.0,956.7 629.4,953.4 630.7,950.5 631.7,948.1 632.7,946.2 633.4,944.6 634.1,943.4 634.6,942.4 635.1,941.5 635.4,940.8" fill="#919191"/><polygon points="626.8,936.2 626.5,936.9 626.0,937.7 625.5,938.8 624.8,940.1 624.0,941.8 623.0,943.8 621.8,946.3 620.5,949.3 619.1,952.5 617.5,955.9 615.9,959.3 614.2,962.4 612.4,965.6 610.6,968.8 608.7,971.9 606.7,975.0 604.6,978.0 602.3,980.9 600.0,983.5 597.6,986.0 595.0,988.5 592.3,991.0 589.4,993.6 586.3,996.4 582.9,999.3 579.1,1002.5 575.3,1005.8 571.4,1009.1 567.6,1012.3 564.1,1015.4 560.9,1018.4 557.8,1021.3 554.9,1024.2 552.2,1027.0 549.6,1029.6 547.3,1032.1 545.2,1034.6 543.3,1037.0 541.7,1039.2 540.3,1041.3 539.1,1042.9 538.3,1044.1 541.9,1046.7 542.8,1045.4 543.9,1043.7 545.2,1041.7 546.8,1039.5 548.5,1037.2 550.5,1034.9 552.7,1032.5 555.1,1029.8 557.8,1027.1 560.7,1024.2 563.7,1021.3 566.9,1018.4 570.3,1015.4 574.0,1012.2 577.9,1009.0 581.9,1005.8 585.7,1002.6 589.1,999.6 592.3,996.9 595.3,994.4 598.2,992.0 601.0,989.5 603.7,986.9 606.3,984.1 608.7,981.1 610.9,977.9 613.1,974.7 615.1,971.4 617.0,968.2 618.8,965.0 620.6,961.6 622.2,958.1 623.8,954.7 625.2,951.4 626.5,948.4 627.6,946.0 628.6,944.0 629.4,942.4 630.0,941.1 630.6,940.1 631.0,939.3 631.4,938.6" fill="#a6a6a6"/>
<polygon points="516.6,1036.6 518.0,1036.0 527.0,1041.5 536.5,1031.8 552.0,1041.8 547.6,1057.0 555.4,1063.6 554.4,1065.4" fill="#8c8c8c"/>
<polygon points="690.2,744.5 755.6,790.1 640.3,950.4 576.7,905.1" fill="url(#gm3)" stroke="#9a9a9a" stroke-width="3" stroke-linejoin="round"/>
<path class="p" d="M742.500 772 L757.500 782.500" stroke="#8a8a8a" stroke-width="5"/>
<path class="p" d="M622 940.500 L641 953.500" stroke="#8a8a8a" stroke-width="4"/>
</g>
<g id="mc1">
<polygon points="302.6,1071.8 302.9,1072.2 303.3,1072.7 303.8,1073.5 304.6,1074.5 305.6,1075.7 307.0,1077.4 308.8,1079.6 311.0,1082.0 313.3,1084.6 315.7,1087.3 317.8,1090.0 319.6,1092.4 321.2,1095.0 322.8,1098.0 324.3,1101.0 325.7,1104.1 327.0,1106.9 328.1,1109.4 328.7,1111.5 329.1,1113.2 329.3,1114.8 329.5,1116.3 329.7,1118.0 329.9,1119.8 329.5,1121.5 329.0,1123.0 328.4,1124.4 327.8,1125.8 327.2,1127.2 326.6,1128.6 326.8,1130.0 327.1,1131.6 327.3,1133.3 327.5,1135.0 327.7,1136.4 327.8,1137.5 353.8,1135.5 353.8,1134.5 353.8,1133.1 353.7,1131.3 353.6,1129.4 353.5,1127.3 353.4,1125.4 352.4,1123.8 351.4,1122.4 350.4,1120.9 349.3,1119.3 348.2,1117.7 347.1,1116.2 346.6,1114.6 346.1,1112.9 345.5,1110.9 344.8,1108.7 343.9,1106.2 342.7,1103.6 341.5,1100.7 340.1,1097.5 338.5,1094.1 336.8,1090.6 334.9,1087.1 332.8,1083.8 330.5,1080.4 327.9,1077.2 325.3,1074.2 322.9,1071.4 320.8,1069.0 319.2,1067.2 318.1,1065.8 317.2,1064.7 316.6,1063.9 316.2,1063.2 315.8,1062.7 315.4,1062.2" fill="#7f7f7f"/><polygon points="304.4,1070.5 304.7,1070.9 305.1,1071.4 305.6,1072.1 306.4,1073.1 307.3,1074.3 308.7,1076.0 310.5,1078.1 312.7,1080.5 315.0,1083.1 317.4,1085.9 319.6,1088.6 321.5,1091.2 323.1,1093.9 324.7,1096.9 326.3,1100.1 327.8,1103.1 329.0,1106.1 330.1,1108.6 330.8,1110.7 331.3,1112.6 331.6,1114.2 331.8,1115.8 332.1,1117.5 332.3,1119.3 332.1,1121.0 331.8,1122.5 331.5,1123.9 331.1,1125.3 330.7,1126.7 330.3,1128.1 330.6,1129.6 330.8,1131.3 331.0,1133.0 331.2,1134.7 331.3,1136.1 331.5,1137.2 350.1,1135.8 350.1,1134.8 350.1,1133.3 350.0,1131.6 349.9,1129.7 349.8,1127.7 349.7,1125.9 348.9,1124.3 348.1,1122.8 347.3,1121.3 346.5,1119.8 345.6,1118.3 344.7,1116.7 344.2,1115.1 343.8,1113.4 343.3,1111.5 342.6,1109.3 341.8,1106.9 340.7,1104.4 339.5,1101.5 338.1,1098.4 336.5,1095.1 334.8,1091.7 333.0,1088.2 330.9,1085.0 328.7,1081.8 326.2,1078.6 323.6,1075.6 321.2,1072.9 319.1,1070.5 317.5,1068.6 316.4,1067.2 315.5,1066.0 314.8,1065.2 314.4,1064.6 314.0,1064.0 313.6,1063.5" fill="#919191"/><polygon points="308.0,1067.9 308.3,1068.4 308.7,1068.9 309.2,1069.6 309.9,1070.5 310.9,1071.7 312.2,1073.3 313.9,1075.4 316.1,1077.8 318.4,1080.4 320.9,1083.3 323.1,1086.1 325.1,1088.9 326.9,1091.8 328.6,1094.9 330.2,1098.1 331.7,1101.3 333.0,1104.2 334.1,1106.9 334.9,1109.1 335.5,1111.1 335.9,1112.9 336.2,1114.6 336.5,1116.3 336.8,1118.0 336.9,1119.7 337.0,1121.2 337.0,1122.7 337.0,1124.1 336.9,1125.5 336.9,1127.0 337.1,1128.6 337.3,1130.3 337.4,1132.1 337.6,1133.8 337.7,1135.2 337.8,1136.3 345.6,1135.7 345.5,1134.7 345.5,1133.2 345.4,1131.5 345.2,1129.6 345.1,1127.8 344.9,1126.0 344.5,1124.5 344.0,1123.0 343.6,1121.6 343.1,1120.1 342.6,1118.6 342.0,1117.0 341.6,1115.3 341.2,1113.6 340.8,1111.8 340.2,1109.8 339.5,1107.6 338.5,1105.1 337.3,1102.4 336.0,1099.3 334.5,1096.0 332.8,1092.7 331.0,1089.4 329.1,1086.3 326.9,1083.3 324.5,1080.2 322.0,1077.3 319.6,1074.6 317.5,1072.2 315.8,1070.3 314.6,1068.8 313.7,1067.6 313.0,1066.7 312.6,1066.1 312.2,1065.5 311.8,1065.1" fill="#a6a6a6"/>
<path class="p" d="M327 1131.500 Q340 1137.500 354 1131" stroke="#8a8a8a" stroke-width="2"/>
<path d="M228.2 987.9 C230.0 988.5 231.2 991.8 232.3 994.1 C233.4 996.4 233.4 999.1 234.8 1001.6 C236.2 1004.1 238.8 1007.3 240.6 1009.1 C242.4 1010.9 244.0 1011.8 245.6 1012.4 C247.2 1013.0 249.0 1011.9 250.2 1012.8 C251.4 1013.7 253.0 1014.1 253.0 1018.0 C253.0 1021.9 252.2 1030.7 250.0 1036.0 C247.8 1041.3 243.1 1046.9 240.0 1050.0 C236.9 1053.1 233.5 1053.2 231.5 1054.8 C229.5 1056.4 229.2 1057.5 228.2 1059.7 C227.2 1061.9 227.1 1065.0 225.7 1068.0 C224.3 1071.0 222.3 1075.2 219.9 1078.0 C217.5 1080.8 214.4 1083.0 211.5 1084.7 C208.6 1086.4 205.4 1087.5 202.4 1088.0 C199.4 1088.5 195.5 1087.6 193.3 1088.0 C191.1 1088.4 190.8 1090.1 189.1 1090.5 C187.4 1090.9 183.9 1092.3 183.3 1090.5 C182.8 1088.7 185.1 1082.3 185.8 1079.7 C186.5 1077.1 186.5 1076.7 187.5 1074.7 C188.5 1072.8 190.1 1070.6 191.6 1068.0 C193.1 1065.4 195.2 1061.8 196.6 1058.9 C198.0 1056.0 199.1 1054.1 199.9 1050.6 C200.7 1047.1 200.6 1041.3 201.6 1038.1 C202.6 1034.9 204.3 1033.2 205.7 1031.5 C207.1 1029.8 208.9 1030.1 209.9 1028.2 C210.9 1026.3 210.5 1022.8 211.5 1019.9 C212.5 1017.0 214.7 1014.2 215.7 1010.7 C216.7 1007.2 216.4 1002.4 217.4 999.1 C218.4 995.8 219.7 992.7 221.5 990.8 C223.3 988.9 226.4 987.3 228.2 987.9Z" fill="#8e8e8e"/>
<path class="p" d="M190.800 1094.600 L190 1089 M180 1073 L187 1076 M211.500 995 L217 998" stroke="#9a9a9a" stroke-width="1.300"/>
<path d="M222.0 993.0 C223.2 990.3 227.2 994.2 229.0 996.0 C230.8 997.8 231.3 1001.5 233.0 1004.0 C234.7 1006.5 238.5 1008.7 239.0 1011.0 C239.5 1013.3 237.8 1016.2 236.0 1018.0 C234.2 1019.8 230.3 1023.0 228.0 1022.0 C225.7 1021.0 223.0 1016.8 222.0 1012.0 C221.0 1007.2 220.8 995.7 222.0 993.0Z" fill="#7c7c7c"/>
<path d="M224.0 995.0 C224.5 994.0 227.5 997.8 229.0 1000.0 C230.5 1002.2 232.8 1005.7 233.0 1008.0 C233.2 1010.3 231.2 1014.3 230.0 1014.0 C228.8 1013.7 227.0 1009.2 226.0 1006.0 C225.0 1002.8 223.5 996.0 224.0 995.0Z" fill="#9a9a9a"/>
<path d="M204.0 1036.0 C205.3 1033.3 209.0 1030.7 212.0 1030.0 C215.0 1029.3 219.7 1030.3 222.0 1032.0 C224.3 1033.7 225.7 1036.3 226.0 1040.0 C226.3 1043.7 225.0 1049.7 224.0 1054.0 C223.0 1058.3 221.7 1062.3 220.0 1066.0 C218.3 1069.7 216.7 1073.2 214.0 1076.0 C211.3 1078.8 207.3 1081.5 204.0 1083.0 C200.7 1084.5 196.3 1085.2 194.0 1085.0 C191.7 1084.8 189.0 1083.5 190.0 1082.0 C191.0 1080.5 196.7 1078.0 200.0 1076.0 C203.3 1074.0 207.8 1073.0 210.0 1070.0 C212.2 1067.0 212.7 1061.7 213.0 1058.0 C213.3 1054.3 213.5 1050.0 212.0 1048.0 C210.5 1046.0 205.3 1048.0 204.0 1046.0 C202.7 1044.0 202.7 1038.7 204.0 1036.0Z" fill="#a3a3a3"/>
<path class="p" d="M223.0 1044.0 C223.5 1045.3 225.8 1048.7 226.0 1052.0 C226.2 1055.3 225.3 1060.2 224.0 1064.0 C222.7 1067.8 220.3 1072.0 218.0 1075.0 C215.7 1078.0 211.3 1080.8 210.0 1082.0" stroke="#7a7a7a" stroke-width="2"/>
<g transform="translate(271.200 1048.100) rotate(23.400)">
<rect x="-31" y="-18.700" width="62" height="37.400" rx="2" fill="url(#gc1)"/>
<path d="M30 -18.700 Q45 -16 47 0 Q45 16 30 18.700 Z" fill="#989898"/>
<ellipse cx="37.500" cy="-4" rx="6.500" ry="9" fill="#b2b2b2"/>
<rect x="29" y="-19.300" width="2.400" height="38.600" fill="#8c8c8c"/>
<rect x="-36" y="-20" width="6.500" height="40" rx="1.500" fill="#848484"/>
<rect x="-35" y="-24" width="6" height="6" rx="1.500" fill="#7e7e7e"/>
</g>
<circle cx="259.200" cy="1048.400" r="4.600" fill="#868686"/><circle cx="259.300" cy="1048.500" r="2.500" fill="#141414"/>
<circle cx="229.8" cy="987.1" r="2" fill="#fff"/>
<circle cx="218.9" cy="1014.5" r="2.3" fill="#fff"/>
<circle cx="213.9" cy="1026.5" r="2.3" fill="#fff"/>
<circle cx="202.8" cy="1053.5" r="2.3" fill="#fff"/>
<circle cx="198.3" cy="1065.1" r="2.3" fill="#fff"/>
<circle cx="186.6" cy="1091.3" r="3.3" fill="#fff"/>
<ellipse cx="223" cy="1024" rx="2.100" ry="5.800" fill="#fff" transform="rotate(14 223 1024)"/>
<path class="p" d="M210.300 1053 L205.200 1068.300" stroke="#fff" stroke-width="4.600" stroke-linecap="round"/>
<ellipse cx="224.800" cy="1026.300" rx="1.400" ry="2.800" fill="#333" transform="rotate(20 224.800 1026.300)"/>
</g>
<g id="mc2">
<path class="p" d="M227.400 1228.800 L210.900 1277.900" stroke="#acacac" stroke-width="2.600"/>
<polygon points="186.9,1249.8 186.9,1249.8 187.0,1249.9 187.8,1250.3 188.9,1250.8 190.3,1251.3 192.2,1251.9 194.9,1252.8 198.4,1253.9 202.4,1255.2 206.7,1256.6 210.9,1257.8 214.9,1258.9 218.6,1259.7 222.3,1260.5 225.9,1261.2 229.3,1261.7 232.5,1262.2 235.3,1262.5 238.0,1262.8 240.3,1263.0 242.4,1263.0 244.1,1263.0 245.4,1263.0 246.5,1263.0 247.8,1263.3 249.1,1263.6 250.2,1263.9 251.1,1264.3 251.9,1264.6 252.5,1265.0 253.2,1265.2 254.1,1265.4 255.0,1265.6 255.9,1265.8 256.8,1266.0 257.4,1266.2 257.6,1242.8 257.1,1243.0 256.3,1243.1 255.2,1243.3 254.1,1243.5 252.8,1243.8 251.5,1244.0 250.3,1244.5 249.2,1245.0 248.3,1245.5 247.5,1246.0 246.6,1246.5 245.5,1247.0 244.0,1247.2 242.6,1247.5 241.4,1247.7 240.2,1247.9 238.7,1247.9 236.9,1247.9 234.4,1247.6 231.6,1247.2 228.4,1246.6 225.1,1246.0 221.8,1245.3 218.5,1244.5 215.0,1243.6 211.1,1242.4 207.0,1241.1 203.1,1239.8 199.7,1238.6 197.0,1237.7 195.2,1237.1 194.3,1236.8 194.0,1236.6 194.1,1236.7 193.7,1236.5 193.1,1236.2" fill="#7f7f7f"/><polygon points="187.7,1247.9 187.8,1247.9 188.0,1248.0 188.7,1248.4 189.7,1248.8 191.0,1249.3 192.9,1249.9 195.6,1250.8 199.1,1252.0 203.1,1253.2 207.3,1254.6 211.5,1255.8 215.4,1256.9 219.0,1257.7 222.7,1258.5 226.2,1259.1 229.6,1259.7 232.7,1260.1 235.5,1260.5 238.1,1260.7 240.3,1260.9 242.2,1260.9 243.9,1260.8 245.2,1260.8 246.4,1260.7 247.7,1261.0 248.9,1261.2 250.0,1261.4 250.9,1261.6 251.6,1261.8 252.3,1262.1 253.1,1262.2 254.1,1262.3 255.1,1262.5 256.0,1262.6 256.8,1262.8 257.4,1263.0 257.6,1246.0 257.0,1246.2 256.2,1246.3 255.2,1246.5 254.1,1246.6 252.9,1246.8 251.7,1246.9 250.5,1247.3 249.5,1247.7 248.6,1248.1 247.7,1248.5 246.8,1248.9 245.6,1249.3 244.2,1249.4 242.8,1249.6 241.5,1249.8 240.2,1250.0 238.6,1250.0 236.7,1249.9 234.2,1249.6 231.3,1249.2 228.1,1248.7 224.7,1248.0 221.4,1247.3 218.0,1246.5 214.4,1245.6 210.5,1244.3 206.4,1243.0 202.5,1241.7 199.0,1240.6 196.3,1239.7 194.5,1239.1 193.5,1238.7 193.1,1238.5 193.1,1238.5 192.8,1238.3 192.3,1238.1" fill="#919191"/><polygon points="189.1,1243.8 189.3,1243.9 189.5,1244.1 190.0,1244.3 190.8,1244.7 192.0,1245.1 193.9,1245.7 196.6,1246.6 200.1,1247.8 204.0,1249.1 208.2,1250.4 212.4,1251.6 216.2,1252.7 219.7,1253.5 223.3,1254.2 226.8,1254.9 230.1,1255.4 233.2,1255.9 235.9,1256.2 238.2,1256.4 240.3,1256.5 242.0,1256.4 243.6,1256.4 244.9,1256.3 246.2,1256.2 247.4,1256.2 248.6,1256.3 249.6,1256.3 250.5,1256.3 251.3,1256.4 252.1,1256.4 253.1,1256.5 254.1,1256.5 255.1,1256.6 256.0,1256.7 256.9,1256.8 257.5,1256.8 257.5,1249.8 257.0,1249.8 256.1,1249.9 255.2,1249.9 254.1,1250.0 253.0,1250.1 251.9,1250.2 250.8,1250.3 249.9,1250.6 249.0,1250.8 248.1,1251.0 247.1,1251.2 245.8,1251.4 244.5,1251.5 243.1,1251.7 241.7,1251.9 240.2,1251.9 238.5,1251.9 236.3,1251.8 233.7,1251.5 230.8,1251.0 227.5,1250.5 224.1,1249.9 220.7,1249.2 217.2,1248.3 213.6,1247.3 209.5,1246.1 205.4,1244.8 201.5,1243.5 198.0,1242.4 195.3,1241.5 193.5,1240.9 192.4,1240.5 191.8,1240.2 191.6,1240.1 191.3,1239.9 190.9,1239.8" fill="#a6a6a6"/>
<path class="p" d="M222.500 1242 L218.500 1260" stroke="#a8a8a8" stroke-width="3.500"/>
<path d="M179.3 1116.8 C181.6 1117.7 181.6 1120.6 180.7 1124.4 C179.8 1128.2 176.6 1134.5 173.8 1139.6 C171.0 1144.7 167.6 1150.4 164.1 1154.8 C160.6 1159.2 155.3 1162.4 153.0 1165.9 C150.7 1169.4 150.2 1172.0 150.0 1176.0 C149.8 1180.0 153.7 1185.3 152.0 1190.0 C150.3 1194.7 144.9 1202.2 140.0 1204.0 C135.1 1205.8 126.6 1200.4 122.6 1200.5 C118.5 1200.6 117.8 1204.7 115.7 1204.7 C113.6 1204.7 111.7 1202.1 110.1 1200.5 C108.5 1198.9 108.5 1195.7 106.0 1195.0 C103.5 1194.3 98.4 1195.6 94.9 1196.3 C91.4 1197.0 87.3 1199.1 85.2 1199.1 C83.1 1199.1 82.7 1198.1 82.5 1196.3 C82.3 1194.5 82.9 1190.8 83.8 1188.0 C84.7 1185.2 85.0 1182.0 88.0 1179.7 C91.0 1177.4 97.2 1177.0 101.8 1174.2 C106.4 1171.4 112.2 1166.6 115.7 1163.1 C119.2 1159.6 119.8 1156.4 122.6 1153.4 C125.4 1150.4 128.2 1147.9 132.3 1145.1 C136.5 1142.3 143.3 1140.2 147.5 1136.8 C151.7 1133.3 154.0 1127.4 157.2 1124.4 C160.4 1121.4 163.2 1120.1 166.9 1118.8 C170.6 1117.5 177.0 1115.9 179.3 1116.8Z" fill="#949494"/>
<path class="p" d="M83 1202 L84.500 1196 M77 1195 L84 1192" stroke="#999" stroke-width="1.500"/>
<path d="M160.0 1124.0 C161.3 1121.7 167.7 1119.3 170.0 1120.0 C172.3 1120.7 174.3 1124.7 174.0 1128.0 C173.7 1131.3 170.0 1139.0 168.0 1140.0 C166.0 1141.0 163.3 1136.7 162.0 1134.0 C160.7 1131.3 158.7 1126.3 160.0 1124.0Z" fill="#757575"/>
<path d="M168.0 1132.0 C171.3 1128.0 175.3 1124.3 176.0 1126.0 C176.7 1127.7 174.7 1136.7 172.0 1142.0 C169.3 1147.3 164.0 1153.7 160.0 1158.0 C156.0 1162.3 151.0 1167.0 148.0 1168.0 C145.0 1169.0 140.7 1167.0 142.0 1164.0 C143.3 1161.0 151.7 1155.3 156.0 1150.0 C160.3 1144.7 164.7 1136.0 168.0 1132.0Z" fill="#a8a8a8"/>
<path d="M124.0 1156.0 C125.3 1152.5 132.3 1146.3 136.0 1147.0 C139.7 1147.7 145.7 1156.2 146.0 1160.0 C146.3 1163.8 141.0 1168.7 138.0 1170.0 C135.0 1171.3 130.3 1170.3 128.0 1168.0 C125.7 1165.7 122.7 1159.5 124.0 1156.0Z" fill="#7e7e7e"/>
<ellipse cx="181.500" cy="1250.500" rx="10" ry="8.500" fill="#8c8c8c" transform="rotate(20 181.500 1250.500)"/>
<g transform="translate(159.400 1216.600) rotate(48.400)">
<rect x="-33" y="-18" width="64" height="36" rx="5" fill="url(#gc2)"/>
<path d="M29 -17 Q43 -14 44 0 Q43 14 29 17 Z" fill="#8e8e8e"/>
<ellipse cx="36" cy="4" rx="5" ry="8" fill="#a2a2a2"/>
<rect x="-38" y="-19.500" width="6.500" height="39" rx="2" fill="#888"/>
<rect x="27.500" y="-18" width="2" height="36" fill="#808080"/>
<ellipse cx="-14" cy="-2" rx="8" ry="3.500" fill="none" stroke="#9c9c9c" stroke-width="1.200"/>
<ellipse cx="14" cy="-2" rx="8" ry="3.500" fill="none" stroke="#9c9c9c" stroke-width="1.200"/>
</g>
<circle cx="179.3" cy="1118.1" r="3.9" fill="#fff"/>
<circle cx="154.4" cy="1137.5" r="3.5" fill="#fff"/>
<circle cx="142.7" cy="1147.9" r="3" fill="#fff"/>
<circle cx="117.8" cy="1167.3" r="3.9" fill="#fff"/>
<circle cx="106" cy="1177" r="3.9" fill="#fff"/>
<polygon points="110.100,1182.500 115.700,1177 118.400,1183.900" fill="#fff"/>
<ellipse cx="122.600" cy="1175.600" rx="2" ry="2.800" fill="#444" transform="rotate(30 122.600 1175.600)"/>
</g>
<g id="front">
<polygon points="395.3,1233.3 411.3,1245.5 404.4,1251.6 390.7,1241.0" fill="#8a8a8a"/>
<path class="p" d="M386.100 1234.800 L393.800 1240.900 M407.500 1250.100 L412.800 1256.900" stroke="#8c8c8c" stroke-width="1.800"/>
<polygon points="365.8,1271.3 366.1,1271.3 366.6,1271.2 367.3,1271.1 368.3,1271.0 369.5,1270.8 370.8,1270.5 372.2,1270.2 374.1,1269.9 376.5,1269.5 379.1,1268.9 381.9,1268.0 384.8,1266.8 387.4,1265.1 389.8,1263.4 391.9,1261.5 393.8,1259.7 395.5,1258.0 397.1,1256.4 398.6,1254.8 400.1,1253.1 401.4,1251.5 402.5,1250.1 403.3,1249.0 403.9,1248.2 393.1,1239.8 392.4,1240.6 391.6,1241.8 390.6,1243.0 389.6,1244.3 388.5,1245.6 387.3,1246.8 385.9,1248.2 384.3,1249.8 382.7,1251.4 381.1,1252.8 379.6,1253.9 378.4,1254.6 377.2,1255.2 375.6,1255.6 373.7,1256.1 371.8,1256.4 369.8,1256.7 368.0,1257.1 366.8,1257.3 366.1,1257.5 365.6,1257.5 365.2,1257.6 364.6,1257.6 364.2,1257.7" fill="#7f7f7f"/><polygon points="365.6,1269.4 365.9,1269.4 366.4,1269.3 367.1,1269.2 368.0,1269.1 369.1,1268.9 370.4,1268.6 371.9,1268.3 373.8,1268.0 376.1,1267.6 378.6,1267.0 381.3,1266.2 383.9,1265.1 386.3,1263.6 388.5,1261.9 390.6,1260.1 392.5,1258.3 394.2,1256.6 395.7,1255.0 397.2,1253.5 398.6,1251.8 399.9,1250.3 400.9,1248.9 401.8,1247.8 402.4,1247.0 394.6,1241.0 394.0,1241.8 393.1,1242.9 392.1,1244.2 391.1,1245.5 389.9,1246.8 388.7,1248.2 387.2,1249.6 385.6,1251.2 383.9,1252.8 382.3,1254.2 380.7,1255.5 379.3,1256.3 377.9,1257.0 376.1,1257.5 374.1,1257.9 372.1,1258.3 370.1,1258.6 368.4,1259.0 367.2,1259.2 366.4,1259.4 365.8,1259.5 365.3,1259.5 364.9,1259.5 364.4,1259.6" fill="#919191"/><polygon points="365.9,1267.3 366.2,1267.3 366.7,1267.3 367.3,1267.2 368.1,1267.1 369.2,1266.9 370.4,1266.6 372.0,1266.3 373.9,1266.0 376.1,1265.6 378.5,1265.1 380.9,1264.3 383.2,1263.3 385.3,1262.0 387.3,1260.4 389.3,1258.8 391.1,1257.0 392.8,1255.4 394.3,1253.8 395.7,1252.3 397.0,1250.8 398.2,1249.3 399.3,1248.0 400.1,1246.9 400.7,1246.1 397.5,1243.5 396.8,1244.4 396.0,1245.5 395.0,1246.8 393.9,1248.2 392.6,1249.6 391.3,1251.0 389.9,1252.4 388.2,1254.1 386.5,1255.7 384.7,1257.3 382.9,1258.6 381.2,1259.7 379.5,1260.5 377.4,1261.1 375.3,1261.6 373.2,1261.9 371.2,1262.3 369.6,1262.6 368.4,1262.8 367.5,1263.0 366.8,1263.1 366.2,1263.2 365.8,1263.2 365.3,1263.3" fill="#a6a6a6"/>
<polygon points="346.6,1260.7 360.3,1244.0 366.4,1256.2 381.6,1256.2 384.6,1263.8 367.9,1277.5 351.1,1281.3" fill="#858585"/>
<polygon points="356.0,1262.0 364.0,1258.0 372.0,1264.0 362.0,1274.0 354.0,1276.0" fill="#9c9c9c"/>
<ellipse cx="292.500" cy="1270" rx="3.200" ry="18" fill="#a2a2a2" transform="rotate(26 292.500 1270)"/>
<polygon points="455.9,1127.0 454.1,1127.6 451.6,1128.5 448.6,1129.7 445.2,1131.0 441.5,1132.4 437.9,1133.9 434.2,1135.6 430.3,1137.3 426.1,1139.3 421.8,1141.4 417.6,1143.5 413.8,1145.8 410.5,1148.0 407.5,1150.1 404.6,1152.4 401.8,1154.9 399.1,1157.6 396.4,1160.7 393.5,1164.2 390.7,1168.0 388.0,1171.9 385.5,1175.8 383.0,1179.6 380.5,1183.3 377.9,1187.1 375.4,1191.0 372.8,1194.8 370.3,1198.7 367.8,1202.4 365.4,1206.0 362.9,1209.7 360.4,1213.3 357.9,1216.9 355.5,1220.5 353.0,1224.0 350.6,1227.4 348.3,1230.6 346.0,1233.9 343.7,1237.0 341.4,1240.1 339.3,1243.2 337.2,1246.2 335.4,1249.1 333.8,1251.9 332.5,1254.3 331.5,1256.3 330.5,1258.0 329.4,1259.5 328.0,1261.0 326.5,1262.5 325.1,1263.8 323.7,1264.9 322.2,1265.8 320.6,1266.6 318.6,1267.3 316.1,1267.9 313.3,1268.5 310.5,1268.8 307.8,1269.1 305.6,1269.2 304.0,1269.0 302.3,1268.7 300.5,1268.2 298.7,1267.6 296.9,1267.0 295.4,1266.5 290.6,1282.5 291.7,1282.8 293.3,1283.4 295.7,1284.2 298.6,1285.0 301.9,1285.6 305.4,1285.8 308.8,1285.7 312.3,1285.4 315.9,1285.0 319.6,1284.3 323.3,1283.3 326.8,1282.2 330.0,1280.7 333.0,1279.1 335.6,1277.3 338.0,1275.3 340.2,1273.3 342.4,1271.1 344.6,1268.7 346.5,1266.2 348.2,1263.7 349.7,1261.4 351.1,1259.3 352.8,1257.0 354.7,1254.5 356.9,1251.8 359.2,1248.8 361.7,1245.7 364.2,1242.5 366.8,1239.2 369.3,1235.9 371.9,1232.5 374.6,1228.9 377.3,1225.3 380.0,1221.7 382.6,1218.0 385.3,1214.1 387.8,1210.2 390.4,1206.4 392.9,1202.5 395.4,1198.8 397.9,1195.1 400.5,1191.3 403.1,1187.5 405.6,1183.9 408.0,1180.5 410.2,1177.6 412.4,1175.1 414.5,1173.0 416.5,1171.3 418.4,1169.9 420.4,1168.5 422.8,1167.1 425.4,1165.6 428.4,1164.0 431.9,1162.4 435.7,1160.7 439.7,1159.1 443.6,1157.5 447.1,1156.1 450.4,1154.8 453.6,1153.6 456.8,1152.5 459.7,1151.5 462.2,1150.7 464.1,1150.0" fill="#7f7f7f"/><polygon points="457.0,1130.2 455.2,1130.9 452.8,1131.8 449.7,1132.9 446.3,1134.1 442.7,1135.5 439.2,1137.0 435.5,1138.6 431.6,1140.4 427.4,1142.3 423.2,1144.3 419.1,1146.4 415.4,1148.6 412.2,1150.6 409.3,1152.7 406.5,1154.9 403.9,1157.2 401.3,1159.8 398.6,1162.7 395.8,1166.1 393.1,1169.8 390.5,1173.6 387.9,1177.4 385.4,1181.2 382.9,1185.0 380.4,1188.7 377.8,1192.6 375.3,1196.5 372.8,1200.3 370.3,1204.1 367.8,1207.7 365.3,1211.4 362.8,1215.0 360.3,1218.6 357.8,1222.2 355.3,1225.7 352.9,1229.0 350.6,1232.3 348.2,1235.5 345.9,1238.7 343.6,1241.8 341.4,1244.8 339.4,1247.7 337.6,1250.6 336.0,1253.2 334.7,1255.6 333.6,1257.7 332.5,1259.5 331.2,1261.1 329.7,1262.7 328.1,1264.3 326.6,1265.7 325.0,1266.9 323.3,1267.9 321.5,1268.8 319.3,1269.6 316.6,1270.2 313.7,1270.8 310.7,1271.2 307.9,1271.4 305.6,1271.5 303.7,1271.4 301.8,1271.0 299.9,1270.4 298.0,1269.8 296.2,1269.2 294.8,1268.8 291.2,1280.2 292.4,1280.6 294.1,1281.2 296.4,1281.9 299.1,1282.7 302.2,1283.3 305.4,1283.5 308.6,1283.4 312.0,1283.1 315.6,1282.6 319.1,1282.0 322.6,1281.1 325.9,1280.0 328.9,1278.7 331.7,1277.1 334.2,1275.4 336.4,1273.5 338.5,1271.6 340.6,1269.5 342.6,1267.2 344.4,1264.8 346.0,1262.4 347.4,1260.1 348.9,1257.8 350.6,1255.5 352.6,1252.9 354.7,1250.1 357.1,1247.2 359.5,1244.1 362.0,1240.9 364.5,1237.6 367.0,1234.2 369.6,1230.8 372.2,1227.2 374.9,1223.6 377.6,1220.0 380.2,1216.3 382.8,1212.5 385.4,1208.6 387.9,1204.7 390.4,1200.9 392.9,1197.1 395.5,1193.4 398.0,1189.7 400.6,1185.9 403.1,1182.2 405.5,1178.8 407.9,1175.7 410.2,1173.1 412.4,1170.9 414.5,1169.0 416.5,1167.4 418.6,1165.9 421.0,1164.4 423.8,1162.8 426.9,1161.2 430.5,1159.4 434.4,1157.7 438.4,1156.0 442.3,1154.4 445.8,1153.0 449.1,1151.7 452.4,1150.4 455.6,1149.3 458.6,1148.3 461.1,1147.4 463.0,1146.8" fill="#919191"/><polygon points="457.8,1134.1 455.9,1134.8 453.5,1135.7 450.5,1136.8 447.1,1138.0 443.6,1139.3 440.1,1140.8 436.5,1142.3 432.6,1144.0 428.5,1145.9 424.3,1147.8 420.4,1149.8 416.9,1151.8 413.8,1153.8 411.0,1155.7 408.4,1157.6 406.0,1159.7 403.5,1162.1 401.0,1164.9 398.4,1168.0 395.7,1171.5 393.2,1175.2 390.6,1179.0 388.1,1182.8 385.6,1186.5 383.1,1190.3 380.5,1194.1 378.0,1198.0 375.4,1201.8 372.9,1205.6 370.4,1209.3 367.9,1213.0 365.3,1216.6 362.8,1220.2 360.2,1223.8 357.7,1227.3 355.3,1230.6 352.9,1233.9 350.5,1237.1 348.1,1240.3 345.9,1243.3 343.7,1246.2 341.7,1249.1 339.9,1251.8 338.4,1254.3 337.0,1256.7 335.7,1258.9 334.4,1260.8 332.9,1262.6 331.3,1264.4 329.6,1266.1 327.8,1267.6 325.9,1268.9 323.9,1270.1 321.8,1271.2 319.2,1272.0 316.3,1272.8 313.2,1273.3 310.1,1273.8 307.1,1274.0 304.5,1274.1 302.3,1273.9 300.0,1273.5 297.8,1272.9 295.8,1272.2 294.1,1271.6 292.7,1271.2 291.3,1276.0 292.5,1276.4 294.2,1277.0 296.4,1277.7 298.9,1278.4 301.6,1278.9 304.5,1279.1 307.4,1279.0 310.6,1278.7 314.0,1278.3 317.4,1277.7 320.7,1276.8 323.6,1275.8 326.3,1274.6 328.7,1273.2 330.9,1271.6 333.0,1269.9 335.0,1268.1 336.9,1266.2 338.7,1264.1 340.3,1261.8 341.7,1259.5 343.1,1257.2 344.6,1254.8 346.3,1252.3 348.3,1249.7 350.5,1246.8 352.8,1243.8 355.2,1240.7 357.7,1237.5 360.1,1234.2 362.6,1230.8 365.2,1227.4 367.7,1223.8 370.4,1220.2 373.0,1216.6 375.6,1212.9 378.2,1209.1 380.7,1205.3 383.2,1201.4 385.8,1197.6 388.3,1193.8 390.8,1190.1 393.4,1186.3 395.9,1182.5 398.4,1178.8 400.9,1175.2 403.4,1172.0 405.8,1169.1 408.2,1166.7 410.4,1164.7 412.6,1162.9 414.9,1161.2 417.5,1159.5 420.3,1157.8 423.7,1156.0 427.4,1154.1 431.4,1152.3 435.4,1150.6 439.3,1148.9 442.9,1147.4 446.3,1146.1 449.6,1144.8 452.9,1143.6 455.9,1142.6 458.4,1141.7 460.2,1141.1" fill="#a6a6a6"/>
<path class="p" d="M363 1210 L378 1220 M345 1235 L361 1246" stroke="#858585" stroke-width="1.200"/>
<ellipse cx="290" cy="1271.500" rx="3" ry="8" fill="#6a6a6a" transform="rotate(26 290 1271.500)"/>
<path d="M454.7 1121.4 C459.8 1120.0 473.8 1120.5 479.0 1121.4 C484.2 1122.3 485.1 1124.5 485.9 1126.7 C486.7 1128.9 485.2 1131.1 483.6 1134.4 C482.0 1137.7 479.1 1143.3 476.0 1146.5 C472.9 1149.7 468.9 1152.6 465.3 1153.4 C461.8 1154.2 457.8 1152.8 454.7 1151.1 C451.6 1149.4 448.0 1147.0 447.0 1143.5 C446.0 1140.0 447.3 1133.5 448.6 1129.8 C449.9 1126.1 449.6 1122.8 454.7 1121.4Z" fill="#8f8f8f"/>
<ellipse cx="463" cy="1136.600" rx="11.200" ry="12" fill="url(#gh)" transform="rotate(20 463 1136.600)"/>
<circle cx="480.200" cy="1128.300" r="2.600" fill="#fff"/>
</g>
</g>
<g filter="url(#soft2)">
<g id="arrows" fill="#080808" stroke="#080808" stroke-width="0.5" stroke-linejoin="round">
<polygon points="365.2,916.3 354.9,921.4 343.5,930.9 332.9,943.1 325.2,955.2 319.9,967.4 314.6,981.1 311.5,988.0 309.3,989.5 305.5,981.1 300.1,973.5 294.8,968.9 289.1,967.8 294.0,975.0 298.6,983.4 302.0,992.5 303.5,1004.0 305.5,1006.2 310.0,1005.9 317.6,996.4 326.8,986.5 332.9,980.4 337.8,976.2 332.1,975.4 326.8,979.6 320.7,984.9 318.4,985.7 320.7,973.5 326.8,959.8 335.1,946.9 345.0,934.7 355.7,924.0"/>
<polygon points="156.0,1260.9 166.3,1270.2 178.8,1276.0 190.2,1279.6 198.0,1280.1 194.4,1284.3 188.2,1285.8 177.8,1283.7 166.3,1279.6 173.6,1299.8 178.8,1322.7 181.4,1343.5 180.9,1359.0 178.3,1374.6 175.7,1383.4 174.7,1381.9 176.2,1364.2 176.2,1343.5 173.6,1322.7 168.4,1306.1 160.1,1290.0 158.0,1295.7 157.5,1308.2 150.2,1313.9 149.7,1313.3 151.3,1296.7 150.8,1281.2 149.7,1266.6"/>
</g>
<!-- ===== labels ===== -->
<text class="lbl" transform="scale(1.11 1)" x="222.88 260.0 287.0 312.99 324.79 340.01 365.31 378.04" y="844.5">Manifold</text>
<text class="lbl" transform="scale(1.11 1)" x="206.3 240.19 265.88 291.5 314.69 341.07 358.3 375.23 401.97" y="907.3">Converter</text>
<text class="lbl" transform="scale(1.11 1)" x="21.08 58.2 85.2 111.18 122.99 138.21 163.5 176.24 203.01 213.78 247.67 273.35 298.98 322.17 348.55 365.78 382.71 409.45" y="1433.6">Manifold Converter</text>
</g>
</svg>
</body>
</html>
